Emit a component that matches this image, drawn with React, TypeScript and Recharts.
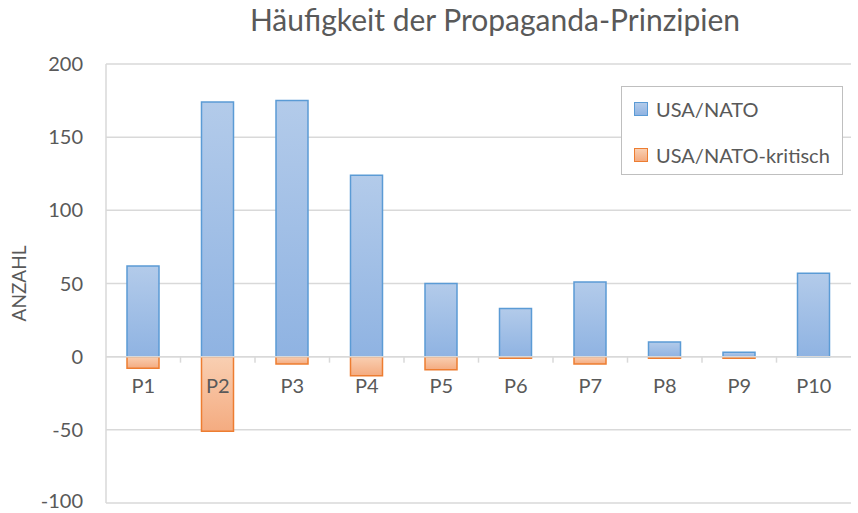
import { Bar, BarChart, CartesianGrid, ReferenceLine, XAxis, YAxis } from 'recharts'

const prinzipien = ['P1', 'P2', 'P3', 'P4', 'P5', 'P6', 'P7', 'P8', 'P9', 'P10']
const usaNato = [62, 174, 175, 124, 50, 33, 51, 10, 3, 57]
const usaNatoKritisch = [-8, -51, -5, -13, -9, -1, -5, -1, -1, 0]
const yTicks = [-100, -50, 0, 50, 100, 150, 200]

const dados = prinzipien.map((p, i) => ({ p, nato: usaNato[i], kritisch: usaNatoKritisch[i] }))

const FONT = 'Lato, "Open Sans", sans-serif'
const TEXT = '#595959'
const GRID = '#d9d9d9'

const W = 858
const H = 513
const TOP = 64
const BOTTOM = 503
const LEFT = 106
const RIGHT = 851
const ZERO_Y = TOP + ((BOTTOM - TOP) * 200) / 300
const BAND = (RIGHT - LEFT) / prinzipien.length

function CategoryTick({ x, payload, index }: any) {
  return (
    <g>
      {index > 0 && <line x1={x - BAND / 2} x2={x - BAND / 2} y1={ZERO_Y} y2={ZERO_Y + 6} stroke={GRID} strokeWidth={1.5} />}
      <text x={x} y={ZERO_Y + 36} textAnchor="middle" fontFamily={FONT} fontSize={20} fill={TEXT}>
        {payload.value}
      </text>
    </g>
  )
}

function ValueTick({ x, y, payload }: any) {
  return (
    <text x={x} y={y} dy={payload.value === -100 ? 5 : 7} textAnchor="end" fontFamily={FONT} fontSize={20} fill={TEXT}>
      {payload.value}
    </text>
  )
}

function LegendBox() {
  const items = [
    { label: 'USA/NATO', top: '#b3cbea', bottom: '#8fb3e2', stroke: '#5b9bd5' },
    { label: 'USA/NATO-kritisch', top: '#f9cfb2', bottom: '#f4ab80', stroke: '#ed7d31' },
  ]
  return (
    <div
      style={{
        position: 'absolute',
        left: 621,
        top: 86,
        width: 222,
        height: 89,
        border: '1.5px solid #bfbfbf',
        background: '#fff',
        boxSizing: 'border-box',
        padding: '10px 0 0 12px',
        fontFamily: FONT,
        fontSize: 20,
        color: TEXT,
      }}
    >
      {items.map((item) => (
        <div key={item.label} style={{ display: 'flex', alignItems: 'center', height: 24, marginBottom: 22, whiteSpace: 'nowrap' }}>
          <div
            style={{
              width: 12,
              height: 12,
              marginRight: 8,
              border: `1px solid ${item.stroke}`,
              background: `linear-gradient(${item.top}, ${item.bottom})`,
            }}
          />
          {item.label}
        </div>
      ))}
    </div>
  )
}

export default function App() {
  return (
    <div style={{ position: 'absolute', left: 0, top: 0, width: W, height: H, background: '#fff' }}>
      <div
        style={{
          position: 'absolute',
          left: 0,
          width: 990,
          top: 1,
          textAlign: 'center',
          fontFamily: FONT,
          fontSize: 30,
          color: TEXT,
          zIndex: 2,
        }}
      >
        Häufigkeit der Propaganda-Prinzipien
      </div>
      <BarChart
        width={W}
        height={H}
        data={dados}
        stackOffset="sign"
        margin={{ top: TOP, right: W - RIGHT, left: 0, bottom: H - BOTTOM - 1 }}
        barSize={32}
      >
        <defs>
          <linearGradient id="gradBlau" x1="0" y1="0" x2="0" y2="1">
            <stop offset="0%" stopColor="#b3cbea" />
            <stop offset="100%" stopColor="#8fb3e2" />
          </linearGradient>
          <linearGradient id="gradOrange" x1="0" y1="0" x2="0" y2="1">
            <stop offset="0%" stopColor="#f9cfb2" />
            <stop offset="100%" stopColor="#f4ab80" />
          </linearGradient>
        </defs>
        <CartesianGrid vertical={false} stroke={GRID} strokeWidth={1.5} />
        <XAxis dataKey="p" height={1} axisLine={false} tickLine={false} tick={<CategoryTick />} interval={0} />
        <YAxis
          width={LEFT}
          domain={[-100, 200]}
          ticks={yTicks}
          interval={0}
          axisLine={{ stroke: GRID, strokeWidth: 1.5 }}
          tickLine={false}
          tickSize={0}
          tickMargin={23}
          tick={<ValueTick />}
          label={{
            value: 'ANZAHL',
            angle: -90,
            position: 'insideLeft',
            offset: 19,
            textAnchor: 'middle',
            style: { fontFamily: FONT, fontSize: 19, fill: TEXT, textAnchor: 'middle' },
          }}
        />
        <ReferenceLine y={0} stroke={GRID} strokeWidth={1.5} />
        <Bar dataKey="nato" name="USA/NATO" stackId="a" fill="url(#gradBlau)" stroke="#5b9bd5" strokeWidth={1.5} isAnimationActive={false} />
        <Bar dataKey="kritisch" name="USA/NATO-kritisch" stackId="a" fill="url(#gradOrange)" stroke="#ed7d31" strokeWidth={1.5} isAnimationActive={false} />
      </BarChart>
      <LegendBox />
    </div>
  )
}
